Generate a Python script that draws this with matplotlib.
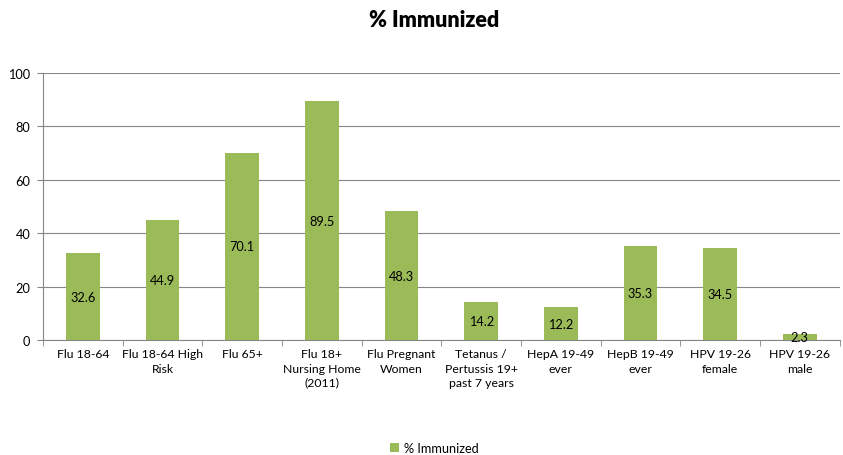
import matplotlib
matplotlib.use('Agg')
import matplotlib.pyplot as plt

# Chart data
categories = ['Flu 18-64', 'Flu 18-64 High\nRisk', 'Flu 65+', 'Flu 18+\nNursing Home\n(2011)',
              'Flu Pregnant\nWomen', 'Tetanus /\nPertussis 19+\npast 7 years', 'HepA 19-49\never',
              'HepB 19-49\never', 'HPV 19-26\nfemale', 'HPV 19-26\nmale']
values = [32.6, 44.9, 70.1, 89.5, 48.3, 14.2, 12.2, 35.3, 34.5, 2.3]
yticks = [0, 20, 40, 60, 80, 100]

bar_color = '#9BBB59'
plt.rcParams['font.family'] = ['Lato', 'DejaVu Sans']

fig = plt.figure(figsize=(8.43, 4.56), dpi=100)
ax = fig.add_axes([0.051, 0.252, 0.945, 0.586])

x = list(range(len(categories)))
bars = ax.bar(x, values, width=0.42, color=bar_color, label='% Immunized', zorder=3)

# value labels in the middle of each bar
for xi, v in zip(x, values):
    ax.text(xi, v / 2, f'{v}', ha='center', va='center', fontsize=9.2, color='black', zorder=4)

ax.set_xlim(-0.5, len(categories) - 0.5)
ax.set_ylim(0, 100)
ax.set_yticks(yticks)
ax.tick_params(axis='y', labelsize=9.2, length=4, color='#868686', pad=5)
ax.set_xticks([i + 0.5 for i in x[:-1]] + [-0.5, len(categories) - 0.5], minor=True)
ax.set_xticks(x)
ax.set_xticklabels(categories, fontsize=8.8, linespacing=1.35)
ax.tick_params(axis='x', which='major', length=0, pad=6)
ax.tick_params(axis='x', which='minor', length=4, color='#868686')

ax.grid(axis='y', color='#868686', linewidth=0.8, zorder=0)
for side in ['top', 'right']:
    ax.spines[side].set_visible(False)
ax.spines['left'].set_color('#868686')
ax.spines['bottom'].set_color('#868686')

fig.suptitle('% Immunized', x=0.515, fontsize=15.5, fontweight='heavy', y=0.978)
fig.legend(handles=[bars], loc='lower center', bbox_to_anchor=(0.515, -0.022), frameon=False,
           fontsize=9.2, handlelength=0.7, handleheight=0.7, handletextpad=0.4)

fig.savefig('out.png', dpi=100)
